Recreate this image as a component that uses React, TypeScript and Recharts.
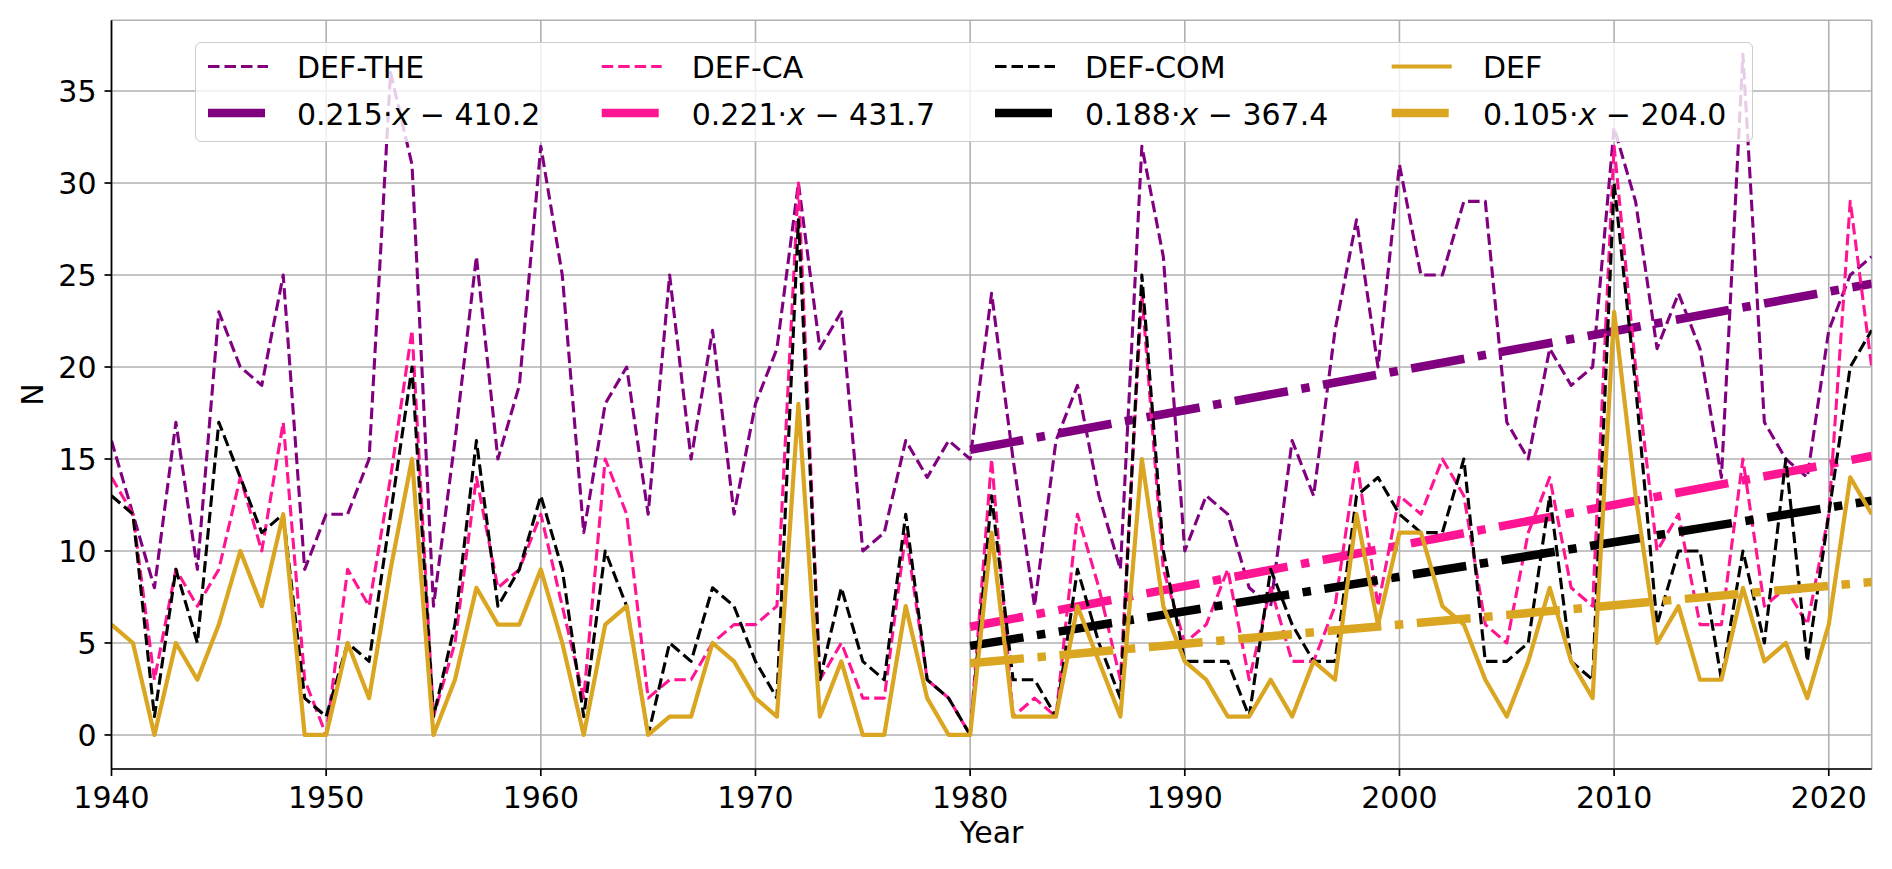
import { LineChart, Line, XAxis, YAxis, CartesianGrid, Legend } from "recharts";

// yearly counts, 1940-2022
const years = Array.from({ length: 83 }, (_, i) => 1940 + i);

const defThe = [
  16, 12, 8, 17, 9, 23, 20, 19, 25, 9,
  12, 12, 15, 36, 31, 7, 16, 26, 15, 19,
  32, 25, 11, 18, 20, 12, 25, 15, 22, 12,
  18, 21, 30, 21, 23, 10, 11, 16, 14, 16,
  15, 24, 15, 7, 16, 19, 13, 9, 32, 26,
  10, 13, 12, 8, 7, 16, 13, 22, 28, 20,
  31, 25, 25, 29, 29, 17, 15, 21, 19, 20,
  33, 29, 21, 24, 21, 14, 37, 17, 15, 14,
  22, 25, 26,
];

const defCa = [
  14, 12, 3, 9, 7, 9, 14, 10, 17, 3,
  0, 9, 7, 14, 22, 1, 5, 14, 8, 9,
  12, 7, 2, 15, 12, 2, 3, 3, 5, 6,
  6, 7, 30, 3, 5, 2, 2, 11, 3, 2,
  0, 15, 1, 2, 1, 12, 8, 3, 24, 9,
  5, 6, 9, 3, 8, 4, 4, 7, 15, 7,
  13, 12, 15, 13, 6, 5, 11, 14, 8, 7,
  32, 20, 10, 12, 6, 6, 15, 7, 8, 6,
  12, 29, 20,
];

const defCom = [
  13, 12, 1, 9, 5, 17, 14, 11, 12, 2,
  1, 5, 4, 12, 20, 1, 6, 16, 7, 9,
  13, 9, 1, 10, 7, 0, 5, 4, 8, 7,
  4, 2, 28, 3, 8, 4, 3, 12, 3, 2,
  0, 13, 3, 3, 1, 9, 5, 2, 25, 10,
  4, 4, 4, 1, 9, 6, 4, 4, 13, 14,
  12, 11, 11, 15, 4, 4, 5, 13, 4, 3,
  30, 19, 6, 10, 10, 3, 10, 5, 15, 4,
  12, 20, 22,
];

const def = [
  6, 5, 0, 5, 3, 6, 10, 7, 12, 0,
  0, 5, 2, 9, 15, 0, 3, 8, 6, 6,
  9, 5, 0, 6, 7, 0, 1, 1, 5, 4,
  2, 1, 18, 1, 4, 0, 0, 7, 2, 0,
  0, 11, 1, 1, 1, 7, 4, 1, 15, 7,
  4, 3, 1, 1, 3, 1, 4, 3, 12, 6,
  11, 11, 7, 6, 3, 1, 4, 8, 4, 2,
  23, 13, 5, 7, 3, 3, 8, 4, 5, 2,
  6, 14, 12,
];

const seriesKeys = ["the", "ca", "com", "def"];
const seriesNames = ["DEF-THE", "DEF-CA", "DEF-COM", "DEF"];
const seriesColors = ["#800080", "#ff1493", "#000000", "#daa520"];

// linear fits shown in the legend, drawn over 1980-2022
const trendSlopes = [0.215, 0.221, 0.188, 0.105];
const trendIntercepts = [-410.2, -431.7, -367.4, -204.0];
const trendYears = [1980, 2022];

const xTicks = [1940, 1950, 1960, 1970, 1980, 1990, 2000, 2010, 2020];
const yTicks = [0, 5, 10, 15, 20, 25, 30, 35];

const data = years.map((year, i) => ({
  year,
  the: defThe[i],
  ca: defCa[i],
  com: defCom[i],
  def: def[i],
}));

const trendData = trendSlopes.map((a, i) =>
  trendYears.map((year) => ({ year, v: a * year + trendIntercepts[i] }))
);

const FONT = "DejaVu Sans";
const DASHED = "11.5 5";
const DASH_DOT = "54 13.6 8.5 13.6";

function fitLabel(i: number) {
  const b = trendIntercepts[i];
  return (
    <>
      {trendSlopes[i].toFixed(3)}·<tspan fontStyle="italic">x</tspan>
      {` ${b < 0 ? "−" : "+"} ${Math.abs(b).toFixed(1)}`}
    </>
  );
}

function LegendBox() {
  const swatchX = [12, 405.7, 799, 1195.7];
  const textX = [101, 495.7, 889, 1287];
  return (
    <div
      style={{
        width: 1558,
        height: 100,
        boxSizing: "border-box",
        border: "1.5px solid #cccccc",
        borderRadius: 6,
        background: "rgba(255,255,255,0.8)",
      }}
    >
      <svg width={1555} height={97} style={{ display: "block" }}>
        {seriesNames.map((name, i) => (
          <g key={name}>
            <line
              x1={swatchX[i]}
              x2={swatchX[i] + 60}
              y1={23.5}
              y2={23.5}
              stroke={seriesColors[i]}
              strokeWidth={i === 3 ? 4.2 : 3.1}
              strokeDasharray={i === 3 ? undefined : DASHED}
            />
            <text x={textX[i]} y={35} fontSize={30} fontFamily={FONT} fill="#000">
              {name}
            </text>
            <line
              x1={swatchX[i]}
              x2={swatchX[i] + 57}
              y1={70}
              y2={70}
              stroke={seriesColors[i]}
              strokeWidth={8.5}
            />
            <text
              x={textX[i]}
              y={82}
              fontSize={30}
              fontFamily={FONT}
              fill="#000"
              style={{ whiteSpace: "pre" }}
            >
              {fitLabel(i)}
            </text>
          </g>
        ))}
      </svg>
    </div>
  );
}

const tickStyle = { fill: "#000", fontSize: 30, fontFamily: FONT };
const axisStroke = { stroke: "#000", strokeWidth: 1.7 };

export default function App() {
  return (
    <LineChart
      width={1876}
      height={853}
      data={data}
      margin={{ top: 12.2, right: 12.3, bottom: 0, left: 0 }}
      style={{ fontFamily: FONT }}
    >
      <CartesianGrid stroke="#b0b0b0" strokeWidth={1.6} />
      <XAxis
        dataKey="year"
        type="number"
        domain={[1940, 2022]}
        ticks={xTicks}
        interval={0}
        allowDataOverflow
        height={92}
        tick={tickStyle}
        tickSize={7}
        tickMargin={11}
        tickLine={axisStroke}
        axisLine={axisStroke}
        label={(props: any) => {
          const vb = props.viewBox;
          return (
            <text
              x={vb.x + vb.width / 2}
              y={vb.y + 74}
              textAnchor="middle"
              fontSize={30}
              fontFamily={FONT}
              fill="#000"
            >
              Year
            </text>
          );
        }}
      />
      <XAxis
        xAxisId="top"
        orientation="top"
        type="number"
        domain={[1940, 2022]}
        height={0}
        tick={false}
        tickLine={false}
        axisLine={axisStroke}
      />
      <YAxis
        type="number"
        domain={[-1.85, 38.85]}
        ticks={yTicks}
        interval={0}
        allowDataOverflow
        width={103.5}
        tick={tickStyle}
        tickSize={7}
        tickMargin={8}
        tickLine={axisStroke}
        axisLine={axisStroke}
        label={(props: any) => {
          const vb = props.viewBox;
          const cy = vb.y + vb.height / 2;
          return (
            <text
              x={35.5}
              y={cy}
              transform={`rotate(-90 35.5 ${cy})`}
              textAnchor="middle"
              fontSize={30}
              fontFamily={FONT}
              fill="#000"
            >
              N
            </text>
          );
        }}
      />
      <YAxis
        yAxisId="right"
        orientation="right"
        type="number"
        domain={[-1.85, 38.85]}
        width={0}
        tick={false}
        tickLine={false}
        axisLine={axisStroke}
      />

      {seriesKeys.map((key, i) => [
        <Line
          key={key}
          dataKey={key}
          name={seriesNames[i]}
          type="linear"
          stroke={seriesColors[i]}
          strokeWidth={i === 3 ? 4.2 : 3.1}
          strokeDasharray={i === 3 ? undefined : DASHED}
          strokeLinejoin="round"
          dot={false}
          activeDot={false}
          isAnimationActive={false}
        />,
        <Line
          key={key + "-fit"}
          data={trendData[i]}
          dataKey="v"
          type="linear"
          stroke={seriesColors[i]}
          strokeWidth={8.5}
          strokeDasharray={DASH_DOT}
          dot={false}
          activeDot={false}
          legendType="none"
          isAnimationActive={false}
        />,
      ])}

      <Legend
        layout="horizontal"
        verticalAlign="middle"
        align="center"
        content={() => <LegendBox />}
        wrapperStyle={{ left: 187, top: 33.7, width: 1558, height: 100 }}
      />
    </LineChart>
  );
}
